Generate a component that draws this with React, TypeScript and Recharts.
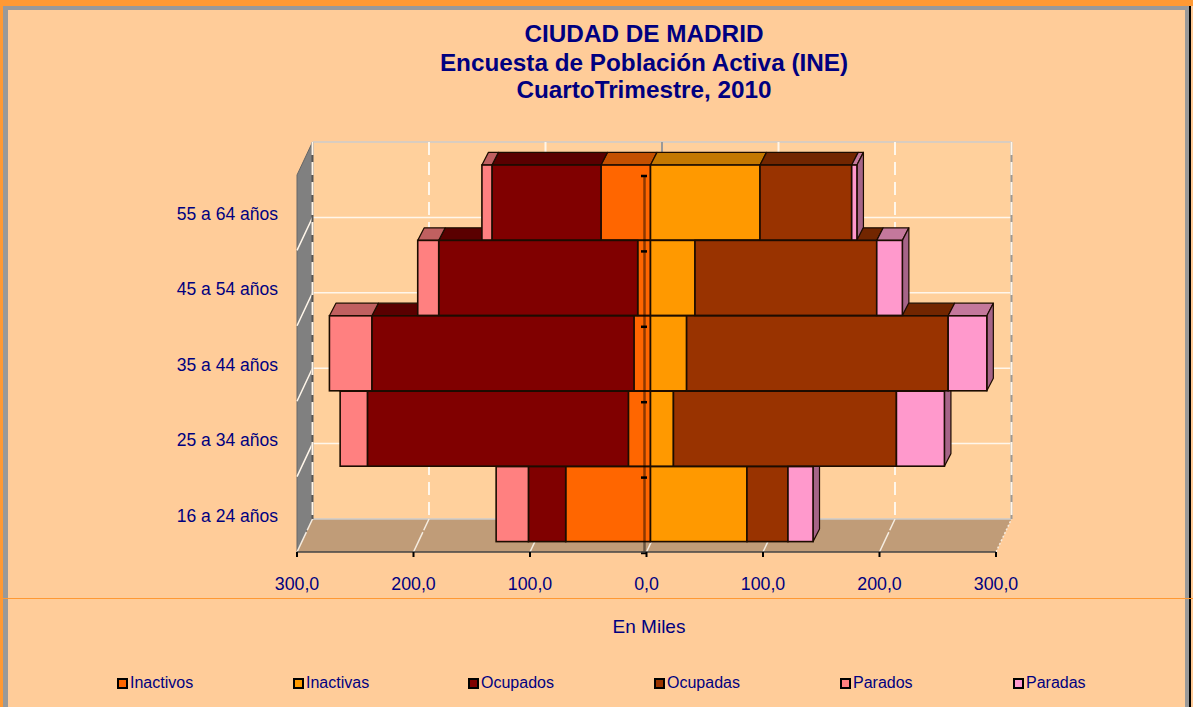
import React from "react";
import {
  BarChart,
  Bar,
  XAxis,
  YAxis,
  Legend,
  ReferenceArea,
  ReferenceLine,
} from "recharts";

const ageGroups = ["16 a 24 años", "25 a 34 años", "35 a 44 años", "45 a 54 años", "55 a 64 años"];
const inactivos = [-72.8, -19, -14.2, -11, -42.5];
const inactivas = [82.8, 19.7, 31, 38.2, 94];
const ocupados = [-32, -224, -225, -170.8, -93.6];
const ocupadas = [35.2, 191.4, 224.5, 156, 78.7];
const parados = [-27.7, -23.4, -36.4, -18, -8.6];
const paradas = [21.5, 41.2, 33.2, 22, 4.5];
const xTicks = [-300, -200, -100, 0, 100, 200, 300];

const series = [
  { key: "Inactivos", values: inactivos, color: "#FF6600", top: "#C45000", side: "#A04000" },
  { key: "Inactivas", values: inactivas, color: "#FF9900", top: "#C47800", side: "#A06000" },
  { key: "Ocupados", values: ocupados, color: "#800000", top: "#5A0000", side: "#4A0000" },
  { key: "Ocupadas", values: ocupadas, color: "#993300", top: "#722600", side: "#5C1F00" },
  { key: "Parados", values: parados, color: "#FF8080", top: "#C06060", side: "#A05050" },
  { key: "Paradas", values: paradas, color: "#FF99CC", top: "#C4789C", side: "#A66488" },
];

const data = ageGroups.map((age, i) => {
  const row: Record<string, string | number> = { age };
  series.forEach((s) => {
    row[s.key] = s.values[i];
  });
  return row;
});

const FONT = '"Liberation Sans", Arial, sans-serif';
const NAVY = "#000080";
const EDGE = "#1c0c00";

// desplazamientos del efecto 3D
const FACE_DX = 4;
const FACE_DY = -10;
const DEPTH_DX = 6.5;
const DEPTH_DY = -12.6;
const WALL_DX = 15.5;
const WALL_DY = -33;

const legendX = [117, 293, 468, 654, 840, 1013];

const Walls = ({ x, y, width, height }: any) => {
  const r = x + width;
  const b = y + height;
  const rows = [1, 2, 3, 4];
  return (
    <g>
      <polygon
        points={`${x + WALL_DX},${y + WALL_DY} ${r + WALL_DX},${y + WALL_DY} ${r + WALL_DX},${b + WALL_DY} ${x + WALL_DX},${b + WALL_DY}`}
        fill="#FFD09C"
      />
      <polygon
        points={`${x},${y} ${x + WALL_DX},${y + WALL_DY} ${x + WALL_DX},${b + WALL_DY} ${x},${b}`}
        fill="#808080"
        stroke="#666"
      />
      <polygon
        points={`${x},${b} ${x + WALL_DX},${b + WALL_DY} ${r + WALL_DX},${b + WALL_DY} ${r},${b}`}
        fill="#C09C78"
      />
      <line x1={x + WALL_DX} y1={y + WALL_DY} x2={r + WALL_DX} y2={y + WALL_DY} stroke="#ccc" strokeWidth={1.5} />
      <line x1={x + WALL_DX} y1={b + WALL_DY} x2={r + WALL_DX} y2={b + WALL_DY} stroke="#ccc" strokeWidth={1.5} />
      {rows.map((n) => {
        const ly = y + (height * n) / 5;
        return (
          <polyline
            key={n}
            points={`${x},${ly} ${x + WALL_DX},${ly + WALL_DY} ${r + WALL_DX},${ly + WALL_DY}`}
            fill="none"
            stroke="#FFF6EA"
            strokeWidth={1.5}
          />
        );
      })}
    </g>
  );
};

const wallTick = (t: number) => ({ x1, y1, y2 }: any) => {
  const top = Math.min(y1, y2);
  const bottom = Math.max(y1, y2);
  const bx = x1 + WALL_DX;
  const under = t === -300 ? "#555" : t === 300 ? "#999" : t === 0 ? "#999" : null;
  return (
    <g>
      {under && (
        <line x1={bx} y1={top + WALL_DY} x2={bx} y2={bottom + WALL_DY} stroke={under} strokeWidth={2} />
      )}
      {t !== 0 && (
        <line x1={bx} y1={top + WALL_DY} x2={bx} y2={bottom + WALL_DY} stroke="#FFF6EA" strokeWidth={2} strokeDasharray="13 7" />
      )}
      <line x1={x1} y1={bottom} x2={bx} y2={bottom + WALL_DY} stroke="#F5ECE0" strokeWidth={1.5} strokeDasharray={t === 300 ? "2 2" : "22 2"} />
    </g>
  );
};

const ZeroAxis = ({ x1, y1, y2 }: any) => {
  const top = Math.min(y1, y2);
  const bottom = Math.max(y1, y2);
  const marks = [0, 1, 2, 3, 4, 5];
  return (
    <g>
      <line x1={x1 - 2} y1={top} x2={x1 - 2} y2={bottom} stroke="#000" strokeOpacity={0.45} strokeWidth={2.5} />
      {marks.map((n) => (
        <line
          key={n}
          x1={x1 - 5.5}
          x2={x1 + 0.5}
          y1={top + ((bottom - top) * n) / 5 + 1}
          y2={top + ((bottom - top) * n) / 5 + 1}
          stroke="#000"
          strokeWidth={2.5}
        />
      ))}
    </g>
  );
};

// caras superior y lateral: se pintan antes que todos los frentes
const depthShape = (s: (typeof series)[number]) => (props: any) => {
  const { x, y, width } = props;
  if (!width) return <g />;
  const l = Math.min(x, x + width) + FACE_DX;
  const r = Math.max(x, x + width) + FACE_DX;
  const t = y + FACE_DY;
  const b = t + props.height;
  return (
    <g stroke={EDGE} strokeWidth={1.2} strokeLinejoin="round">
      <polygon
        points={`${l},${t} ${l + DEPTH_DX},${t + DEPTH_DY} ${r + DEPTH_DX},${t + DEPTH_DY} ${r},${t}`}
        fill={s.top}
      />
      {s.key === "Paradas" && (
        <polygon
          points={`${r},${t} ${r + DEPTH_DX},${t + DEPTH_DY} ${r + DEPTH_DX},${b + DEPTH_DY} ${r},${b}`}
          fill={s.side}
        />
      )}
    </g>
  );
};

const FrontFace = (props: any) => {
  const { x, y, width, height, fill } = props;
  if (!width) return <g />;
  return (
    <rect
      x={Math.min(x, x + width) + FACE_DX}
      y={y + FACE_DY}
      width={Math.abs(width)}
      height={height}
      fill={fill}
      stroke={EDGE}
      strokeWidth={1.6}
    />
  );
};

const LegendRow = () => (
  <div style={{ position: "relative", height: 20, fontFamily: FONT, fontSize: 16, color: NAVY }}>
    {series.map((s, i) => (
      <div key={s.key} style={{ position: "absolute", left: legendX[i], top: 0, whiteSpace: "nowrap", lineHeight: "20px" }}>
        <span
          style={{
            display: "inline-block",
            width: 7,
            height: 7,
            border: "2px solid #000",
            background: s.color,
            marginRight: 2,
            verticalAlign: "-1px",
          }}
        />
        {s.key}
      </div>
    ))}
  </div>
);

const App = () => {
  return (
    <div style={{ position: "absolute", left: 0, top: 0, width: 1193, height: 707, background: "#FFCC99", overflow: "hidden" }}>
      <div style={{ position: "absolute", left: 0, top: 0, width: 1193, height: 6, background: "#FF9933" }} />
      <div style={{ position: "absolute", left: 0, top: 0, width: 3, height: 707, background: "#FF9933" }} />
      <div style={{ position: "absolute", left: 3, top: 6, width: 1186, height: 4, background: "#999" }} />
      <div style={{ position: "absolute", left: 3, top: 6, width: 5, height: 701, background: "#999" }} />
      <div style={{ position: "absolute", left: 1185, top: 6, width: 4, height: 701, background: "#999" }} />
      <div style={{ position: "absolute", left: 1189, top: 6, width: 2, height: 701, background: "#000" }} />
      <div style={{ position: "absolute", left: 0, top: 598, width: 1193, height: 1, background: "#FF9933" }} />

      <BarChart
        width={1193}
        height={707}
        data={data}
        layout="vertical"
        stackOffset="sign"
        barCategoryGap={0}
        margin={{ top: 175, right: 197, bottom: 95, left: 0 }}
        style={{ position: "absolute", left: 0, top: 0 }}
      >
        <XAxis
          type="number"
          domain={[-300, 300]}
          ticks={xTicks}
          interval={0}
          tickFormatter={(v: number) => Math.abs(v).toFixed(1).replace(".", ",")}
          tick={{ fill: NAVY, fontSize: 17.8, fontFamily: FONT }}
          tickLine={{ stroke: "#000", strokeWidth: 2 }}
          axisLine={{ stroke: "#444", strokeWidth: 1.5 }}
          tickSize={5}
          tickMargin={20}
          height={60}
        />
        <YAxis
          type="category"
          dataKey="age"
          reversed
          width={297}
          tick={{ fill: NAVY, fontSize: 17.5, fontFamily: FONT, dy: 1 }}
          tickLine={false}
          axisLine={false}
          tickSize={0}
          tickMargin={19}
        />
        <YAxis yAxisId="depth" type="category" dataKey="age" reversed hide />

        <ReferenceArea x1={-300} x2={300} shape={Walls} ifOverflow="visible" zIndex={-60} />
        {xTicks.map((t) => (
          <ReferenceLine key={t} x={t} shape={wallTick(t)} ifOverflow="visible" zIndex={-50} />
        ))}

        {series.map((s) => (
          <Bar
            key={`depth-${s.key}`}
            yAxisId="depth"
            dataKey={s.key}
            stackId="depth"
            legendType="none"
            shape={depthShape(s)}
            isAnimationActive={false}
          />
        ))}
        {series.map((s) => (
          <Bar
            key={s.key}
            dataKey={s.key}
            stackId="front"
            fill={s.color}
            shape={FrontFace}
            isAnimationActive={false}
          />
        ))}

        <ReferenceLine x={0} shape={ZeroAxis} ifOverflow="visible" />

        <Legend
          layout="horizontal"
          verticalAlign="middle"
          content={LegendRow}
          wrapperStyle={{ position: "absolute", left: 0, top: 673, width: 1193, height: 20 }}
        />

        <g fontFamily={FONT} fontWeight="bold" fontSize={24.3} fill={NAVY} textAnchor="middle">
          <text x={644} y={41.5}>CIUDAD DE MADRID</text>
          <text x={644} y={71}>Encuesta de Población Activa (INE)</text>
          <text x={644} y={98}>CuartoTrimestre, 2010</text>
        </g>
        <text x={649} y={633} fontFamily={FONT} fontSize={19} fill={NAVY} textAnchor="middle">En Miles</text>
      </BarChart>
    </div>
  );
};

export default App;
